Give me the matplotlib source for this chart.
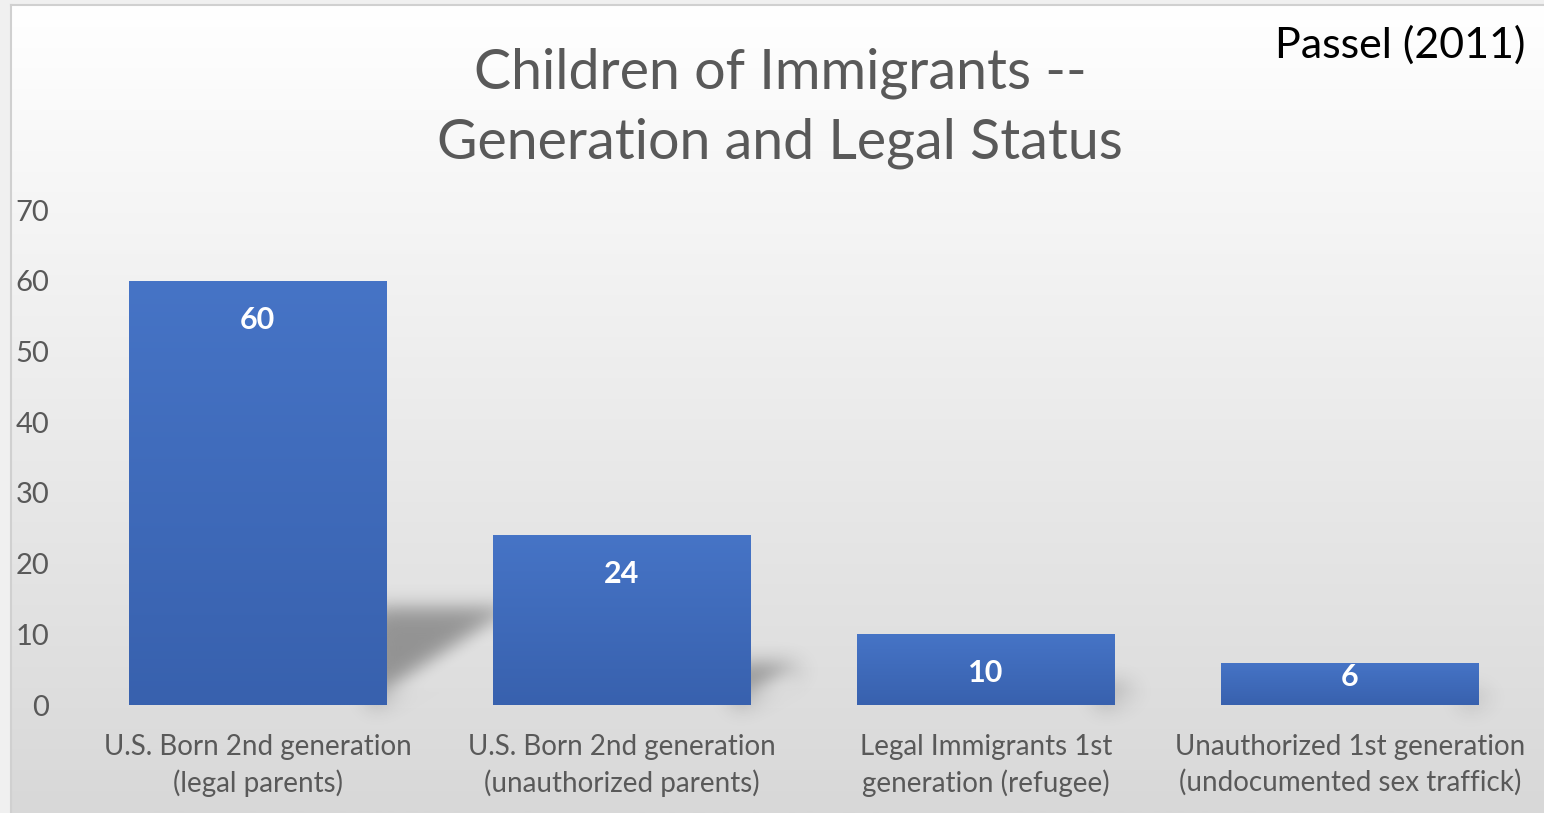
import numpy as np
import matplotlib
matplotlib.use("Agg")
import matplotlib.pyplot as plt
from matplotlib.patches import Polygon, Rectangle

# ---------------- data ----------------
categories = [
    "U.S. Born 2nd generation\n(legal parents)",
    "U.S. Born 2nd generation\n(unauthorized parents)",
    "Legal Immigrants 1st\ngeneration (refugee)",
    "Unauthorized 1st generation\n(undocumented sex traffick)",
]
values = [60, 24, 10, 6]
y_ticks = [0, 10, 20, 30, 40, 50, 60, 70]
title = "Children of Immigrants --\nGeneration and Legal Status"
source = "Passel (2011)"

FONT = "Lato"
GRAY = "#595959"
W, H, DPI = 1544, 813, 100

fig = plt.figure(figsize=(W / DPI, H / DPI), dpi=DPI)

# ---------------- background ----------------
bg = fig.add_axes([0, 0, 1, 1], zorder=-5)
bg.set_xlim(0, W); bg.set_ylim(H, 0); bg.axis("off")
bg.add_patch(Rectangle((0, 0), W, H, color="#f0f0f0", zorder=0))
grad = np.linspace(0, 1, 256)[:, None]
top_c = np.array([255, 255, 255]) / 255
bot_c = np.array([216, 216, 216]) / 255
img = top_c[None, None, :] * (1 - grad[..., None]) + bot_c[None, None, :] * grad[..., None]
bg.imshow(img, extent=(11, W, H, 6), aspect="auto", interpolation="bilinear", zorder=1)
bg.plot([11, W], [5.5, 5.5], color="#d0d0d0", lw=1.5, zorder=2)
bg.plot([10.5, 10.5], [5.5, H], color="#d0d0d0", lw=1.5, zorder=2)
bg.set_xlim(0, W); bg.set_ylim(H, 0)

# ---------------- main axes ----------------
ax = fig.add_axes([75.5 / W, 108 / H, 1456.5 / W, 495 / H])
ax.set_facecolor("none")
for s in ax.spines.values():
    s.set_visible(False)

bar_w = 257 / 364
x = np.arange(len(values))


def blur(im, dpi, sigma=11):
    r = int(3 * sigma)
    pad = r
    a = np.pad(im, ((pad, pad), (pad, pad), (0, 0)))
    k = np.exp(-0.5 * (np.arange(-r, r + 1) / sigma) ** 2)
    k /= k.sum()
    out = np.zeros_like(a)
    for i, w in enumerate(k):
        out += w * np.roll(a, i - r, axis=0)
    out2 = np.zeros_like(out)
    for i, w in enumerate(k):
        out2 += w * np.roll(out, i - r, axis=1)
    return out2, -pad, -pad


# shadows (derived from bar geometry)
px_per_y = 495 / 70
px_per_x = 364
for xi, v in zip(x, values):
    R = xi + bar_w / 2
    sh = 0.22 * v
    L = (sh * px_per_y / 0.72) / px_per_x
    poly = Polygon([(R - 0.04, 0), (R - 0.04, sh), (R + L, sh)], closed=True,
                   facecolor="#606060", edgecolor="none", alpha=0.6, zorder=1)
    poly.set_agg_filter(blur)
    ax.add_patch(poly)

bars = ax.bar(x, values, width=bar_w, color="#4472c4", zorder=2)
bgrad = np.linspace(0, 1, 128)[:, None]
c_top = np.array([70, 116, 198]) / 255
c_bot = np.array([56, 97, 174]) / 255
bimg = c_top[None, None, :] * (1 - bgrad[..., None]) + c_bot[None, None, :] * bgrad[..., None]
for b in bars:
    bx, by = b.get_x(), b.get_y()
    bw, bh = b.get_width(), b.get_height()
    im = ax.imshow(bimg, extent=(bx, bx + bw, by, by + bh), aspect="auto",
                   interpolation="bilinear", zorder=3)
    im.set_clip_path(b)
ax.set_xlim(-0.5, len(values) - 0.5)
ax.set_ylim(0, 70)

for xi, v in zip(x, values):
    ax.text(xi, max(v - 5.5, 4.0), str(v), ha="center", va="center",
            color="white", fontweight="bold", fontsize=22, family=FONT, zorder=5)

ax.set_yticks(y_ticks)
ax.set_yticklabels([str(t) for t in y_ticks], fontsize=21, color=GRAY, family=FONT)
ax.set_xticks(x)
ax.set_xticklabels(categories, fontsize=20, color=GRAY, family=FONT, linespacing=1.4)
ax.tick_params(axis="y", length=0, pad=19)
ax.tick_params(axis="x", length=0, pad=21)

fig.text(780 / W, 1 - 108 / H, title, ha="center", va="center", fontsize=40,
         color=GRAY, family=FONT, linespacing=1.44)
fig.text(1400 / W, 1 - 45 / H, source, ha="center", va="center", fontsize=31,
         color="black", family=FONT)

fig.savefig("out.png", dpi=DPI)
